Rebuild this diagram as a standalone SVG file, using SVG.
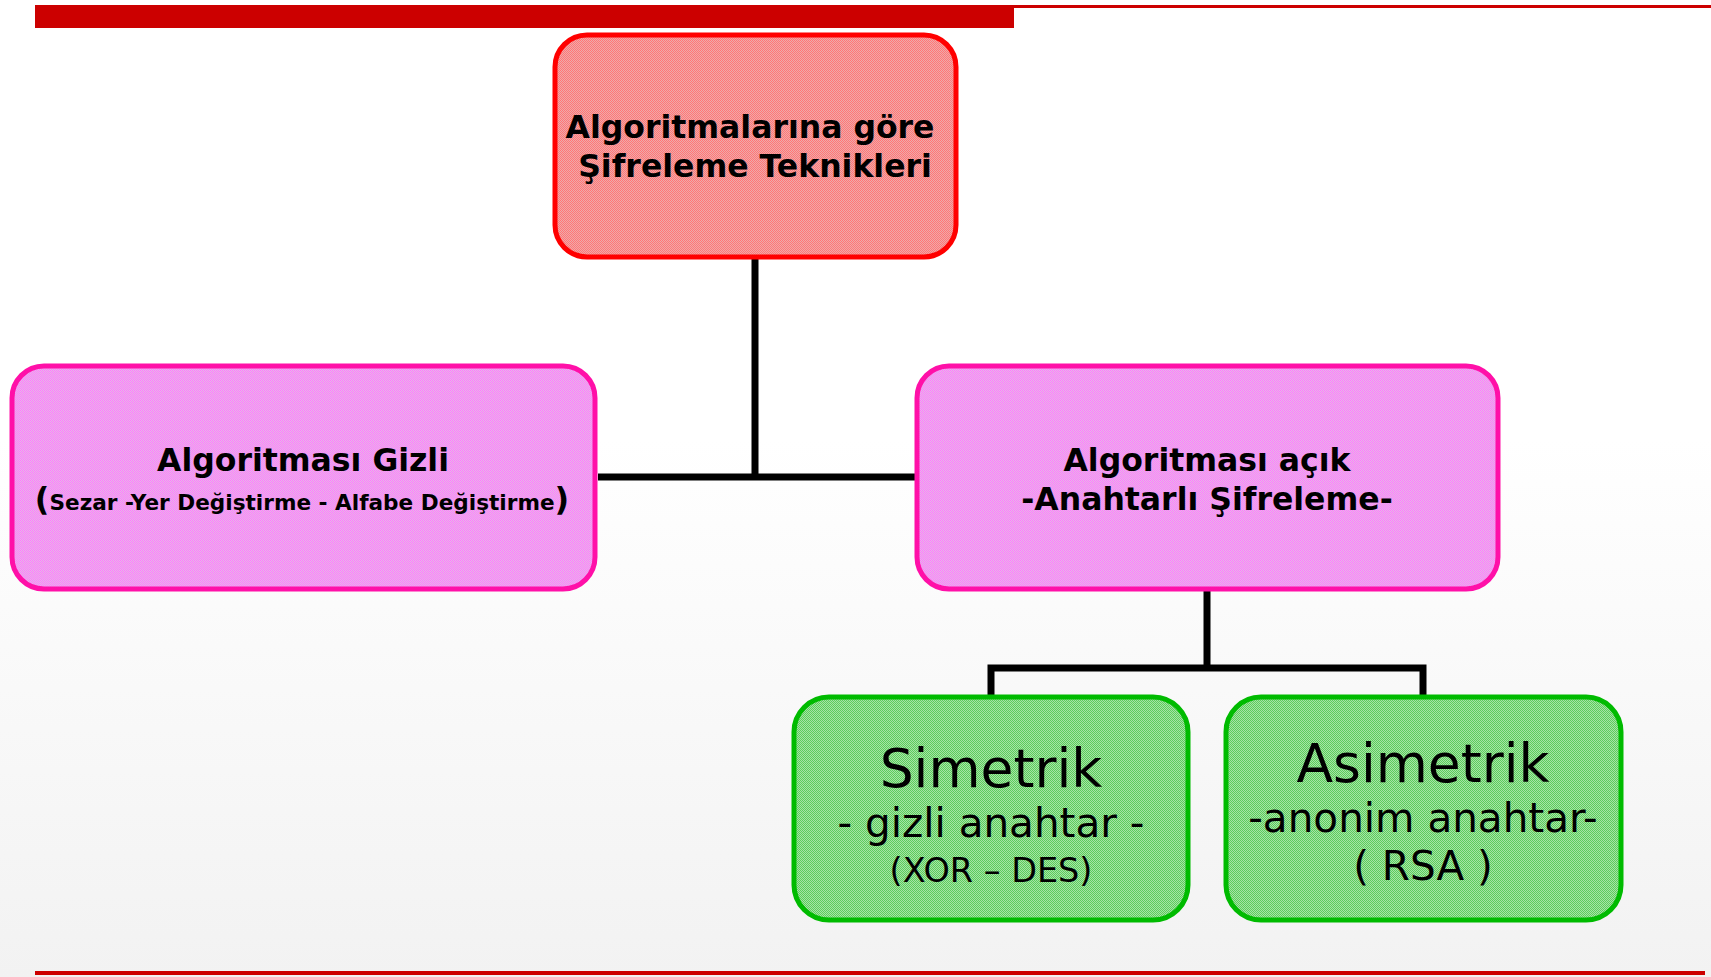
<svg xmlns="http://www.w3.org/2000/svg" width="1711" height="977" viewBox="0 0 1711 977">
<defs>
<linearGradient id="bg" x1="0" y1="0" x2="0" y2="1">
<stop offset="0.45" stop-color="#ffffff"/>
<stop offset="1" stop-color="#f2f2f2"/>
</linearGradient>
<pattern id="pRed" width="2" height="2" patternUnits="userSpaceOnUse">
<rect width="2" height="2" fill="#eeaaaa"/>
<rect width="1" height="1" fill="#ff7676"/>
<rect x="1" y="1" width="1" height="1" fill="#ff7676"/>
</pattern>
<pattern id="pMag" width="2" height="2" patternUnits="userSpaceOnUse">
<rect width="2" height="2" fill="#e4bce4"/>
<rect width="1" height="1" fill="#ff78ff"/>
<rect x="1" y="1" width="1" height="1" fill="#ff78ff"/>
</pattern>
<pattern id="pGrn" width="2" height="2" patternUnits="userSpaceOnUse">
<rect width="2" height="2" fill="#a6e4a6"/>
<rect width="1" height="1" fill="#5ccc5c"/>
<rect x="1" y="1" width="1" height="1" fill="#5ccc5c"/>
</pattern>
</defs>
<style>
.bold{font-family:"DejaVu Sans","Verdana",sans-serif;font-weight:bold;fill:#000;text-anchor:middle}
.reg{font-family:"DejaVu Sans","Verdana",sans-serif;fill:#000;text-anchor:middle}
.conn{stroke:#000;stroke-width:7;fill:none}
.red{fill:url(#pRed);stroke:#ff0000;stroke-width:5}
.mag{fill:url(#pMag);stroke:#ff10a8;stroke-width:5}
.grn{fill:url(#pGrn);stroke:#00bb00;stroke-width:5}
</style>
<rect width="1711" height="977" fill="url(#bg)"/>
<g id="decor">
<rect x="35" y="5" width="1676" height="3" fill="#cc0000"/>
<rect x="35" y="5" width="979" height="23" fill="#cc0000"/>
<rect x="35" y="971" width="1670" height="4" fill="#cc0000"/>
</g>
<g id="connectors">
<path class="conn" d="M755,258 V477"/>
<path class="conn" d="M598,477 H916"/>
<path class="conn" d="M1207,589 V668"/>
<path class="conn" d="M991,698 V668 H1423 V698"/>
</g>
<g id="root">
<rect class="red" x="555" y="35" width="401" height="222" rx="32"/>
<text class="bold" font-size="31.5" x="750" y="138">Algoritmalarına göre</text>
<text class="bold" font-size="31.5" x="755" y="177">Şifreleme Teknikleri</text>
</g>
<g id="gizli">
<rect class="mag" x="12" y="366" width="583" height="223" rx="32"/>
<text class="bold" font-size="31.5" x="303" y="471">Algoritması Gizli</text>
<text class="bold" x="302" y="510"><tspan font-size="32">(</tspan><tspan font-size="21.6">Sezar -Yer Değiştirme - Alfabe Değiştirme</tspan><tspan font-size="32">)</tspan></text>
</g>
<g id="acik">
<rect class="mag" x="917" y="366" width="581" height="223" rx="32"/>
<text class="bold" font-size="31.5" x="1207" y="471">Algoritması açık</text>
<text class="bold" font-size="31.5" x="1207" y="510">-Anahtarlı Şifreleme-</text>
</g>
<g id="simetrik">
<rect class="grn" x="794" y="697" width="394" height="223" rx="35"/>
<text class="reg" font-size="53.5" x="991" y="787">Simetrik</text>
<text class="reg" font-size="40.5" x="991" y="837">- gizli anahtar -</text>
<text class="reg" font-size="33.5" x="991" y="882">(XOR – DES)</text>
</g>
<g id="asimetrik">
<rect class="grn" x="1226" y="697" width="395" height="223" rx="35"/>
<text class="reg" font-size="53.5" x="1423" y="782">Asimetrik</text>
<text class="reg" font-size="40.5" x="1423" y="832">-anonim anahtar-</text>
<text class="reg" font-size="40.5" x="1423" y="880">( RSA )</text>
</g>
</svg>
